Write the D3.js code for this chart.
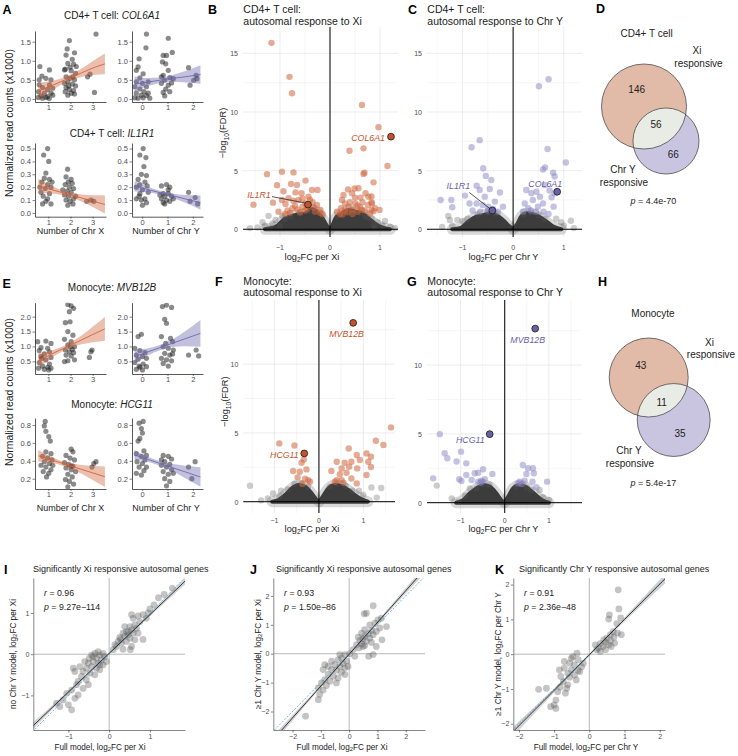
<!DOCTYPE html>
<html><head><meta charset="utf-8">
<script src="https://cdn.jsdelivr.net/npm/d3@7/dist/d3.min.js"></script>
<style>
html,body{margin:0;padding:0;background:#fff;}
svg text{font-family:"Liberation Sans",Arial,Helvetica,sans-serif;}
</style></head><body>
<svg id="fig" width="738" height="756" viewBox="0 0 738 756"></svg>
<script>
// ======================= DATA =======================
const panelLetters = ["A","B","C","D","E","F","G","H","I","J","K"];
// Panels A / E : [number of chromosomes (jittered), normalized read counts (x1000)]
const col6a1ByX = [[0.62,0.85],[1.05,0.76],[0.71,0.6],[0.89,0.54],[0.59,0.37],[1.05,0.37],[0.74,0.3],[0.97,0.25],[0.56,0.19],[0.82,0.15],[1.12,0.15],[0.67,0.08],[0.97,0.06],[1.2,0.1],[0.59,0.5],[1.12,0.5],[0.89,0.04],[0.74,0.02],[1.04,0.01],[0.55,0.04],[1.2,0.28],
 [1.85,1.31],[1.95,1.53],[2.18,1.21],[1.8,1.15],[2.08,1.04],[1.88,0.93],[2.14,0.91],[1.77,0.78],[2.03,0.74],[2.23,0.67],[1.8,0.58],[1.98,0.54],[2.18,0.5],[1.88,0.45],[1.73,0.41],[2.08,0.39],[2.23,0.34],[1.8,0.3],[1.95,0.25],[2.14,0.22],[1.76,0.19],[2.03,0.15],[1.88,0.1],[2.18,0.13],[1.92,0.34],[2.26,0.85],[1.73,0.76],[2.11,0.58],[1.98,0.83],
 [3.15,1.7],[2.77,0.58],[2.88,0.65],[3.08,0.17]];
const col6a1ByY = [[0.17,1.7],[-0.12,1.05],[-0.16,0.84],[0.04,0.66],[-0.09,0.55],[-0.23,0.45],[0.01,0.41],[0.24,0.45],[-0.29,0.32],[0.17,0.32],[-0.09,0.26],[0.07,0.19],[-0.23,0.15],[0.24,0.15],[-0.03,0.1],[-0.29,0.03],[-0.16,0.02],[0.17,0.09],[0.3,0.02],[0.04,0.03],[-0.23,0.75],[0.15,1.34],
 [1.03,1.59],[1.19,1.22],[0.83,1.14],[0.96,1.14],[0.8,0.97],[0.93,0.92],[1.03,0.75],[0.83,0.62],[1.09,0.56],[0.89,0.49],[0.76,0.41],[1.03,0.36],[1.16,0.42],[0.93,0.26],[0.83,0.17],[1.09,0.19],[0.89,0.08],[1.23,0.53],[0.76,0.58],
 [1.83,0.82],[2.13,0.62],[1.89,0.36],[2.16,0.53],[2.03,0.49]];
const il1r1ByX = [[0.79,0.45],[0.97,0.5],[1.02,0.4],[0.89,0.31],[0.82,0.27],[1.05,0.26],[0.71,0.24],[0.97,0.22],[1.12,0.2],[0.86,0.19],[0.67,0.16],[1.05,0.15],[0.77,0.13],[0.97,0.11],[0.89,0.09],[0.74,0.07],[1.12,0.07],[0.62,0.2],[1.17,0.24],
 [1.87,0.34],[1.8,0.28],[2.03,0.26],[1.76,0.22],[1.95,0.2],[2.14,0.19],[1.85,0.17],[2.03,0.16],[1.73,0.14],[1.92,0.13],[2.14,0.11],[1.8,0.1],[1.98,0.09],[2.11,0.07],[1.88,0.06],[2.23,0.13],[1.65,0.18],[2.08,0.23],[1.9,0.24],
 [2.73,0.09],[2.92,0.1],[3.05,0.09]];
const il1r1ByY = [[0.04,0.5],[-0.09,0.45],[0.15,0.43],[0.07,0.36],[-0.03,0.3],[0.17,0.29],[-0.16,0.26],[0.11,0.24],[-0.09,0.22],[0.2,0.21],[-0.23,0.2],[0.01,0.18],[0.24,0.16],[-0.12,0.13],[0.11,0.11],[-0.03,0.1],[-0.23,0.11],[0.17,0.08],[0.01,0.06],[-0.09,0.15],
 [0.76,0.21],[0.96,0.22],[1.09,0.2],[0.83,0.15],[1.03,0.15],[0.89,0.13],[1.16,0.13],[0.76,0.11],[0.96,0.1],[1.09,0.09],[0.83,0.08],[1.23,0.11],[0.7,0.14],[1.03,0.18],[0.89,0.07],
 [1.83,0.16],[2.09,0.12],[1.89,0.09],[2.19,0.07]];
const mvb12bByX = [[0.52,1.16],[0.89,1.18],[1.12,1.1],[0.67,0.96],[0.97,0.94],[0.59,0.86],[1.05,0.82],[0.82,0.75],[0.67,0.66],[1.12,0.63],[0.89,0.55],[0.59,0.46],[1.05,0.41],[0.74,0.34],[0.97,0.3],[0.56,0.27],[1.12,0.27],[0.82,0.23],[1.02,0.21],[0.71,0.6],
 [1.88,2.41],[2.03,2.36],[2.14,2.28],[1.95,2.17],[1.77,1.8],[1.98,1.83],[1.88,1.5],[2.11,1.38],[1.73,1.24],[2.03,1.16],[1.88,1.05],[2.18,0.99],[1.77,0.88],[1.95,0.82],[2.14,0.79],[1.8,0.71],[2.03,0.68],[1.88,0.52],[2.18,0.55],[1.73,0.49],[1.98,0.99],[2.08,0.9],
 [2.85,0.63],[2.97,0.88],[2.92,0.82]];
const mvb12bByY = [[-0.16,1.33],[-0.03,1.41],[-0.29,0.94],[-0.09,0.86],[0.11,0.79],[-0.23,0.71],[0.01,0.66],[0.17,0.6],[-0.16,0.57],[-0.29,0.46],[0.04,0.41],[-0.12,0.34],[0.17,0.32],[-0.23,0.23],[0.01,0.21],[-0.09,0.3],
 [0.8,2.34],[0.96,2.39],[1.16,2.31],[0.89,1.91],[0.96,1.78],[0.76,1.33],[1.12,1.27],[0.93,1.1],[1.2,1.16],[0.83,0.99],[1.03,0.94],[1.23,0.88],[0.89,0.77],[1.09,0.71],[0.76,0.6],[0.96,0.55],[1.16,0.52],[0.83,0.43],[1.03,0.34],[1.2,0.75],
 [1.83,0.71],[2.13,0.88],[2.23,0.68]];
const hcg11ByX = [[0.86,0.84],[0.82,0.79],[0.89,0.73],[1.02,0.67],[1.09,0.62],[0.89,0.5],[1.12,0.48],[0.74,0.45],[0.97,0.43],[1.17,0.41],[0.82,0.39],[1.05,0.37],[0.67,0.35],[0.89,0.33],[1.12,0.3],[0.77,0.28],[1.02,0.26],[0.92,0.22],[1.2,0.35],
 [2.03,0.53],[2.11,0.5],[1.8,0.46],[1.98,0.43],[2.18,0.41],[1.73,0.38],[1.92,0.36],[2.11,0.34],[1.8,0.32],[2.03,0.3],[2.23,0.28],[1.88,0.25],[2.08,0.22],[1.77,0.19],[1.95,0.17],[2.14,0.14],[1.88,0.11],[2.03,0.34],
 [2.97,0.33],[3.05,0.37],[3.15,0.39]];
const hcg11ByY = [[-0.12,0.82],[0.04,0.84],[-0.03,0.76],[0.01,0.71],[-0.09,0.65],[-0.16,0.62],[0.07,0.51],[-0.23,0.48],[0.17,0.46],[-0.03,0.45],[0.11,0.41],[-0.2,0.39],[0.01,0.37],[0.17,0.33],[-0.12,0.33],[0.07,0.29],[-0.23,0.26],[-0.03,0.24],
 [0.83,0.46],[1.03,0.45],[1.16,0.42],[0.89,0.39],[1.09,0.36],[0.76,0.35],[0.96,0.33],[1.16,0.3],[0.83,0.28],[1.03,0.25],[0.89,0.2],[1.09,0.17],[0.96,0.12],[1.23,0.26],[0.76,0.41],
 [1.83,0.33],[2.09,0.39],[1.96,0.2]];

// linear fits for A / E : x positions, fitted value, half width of confidence band
const fitGridX = [0.55,1,1.5,2,2.5,3,3.55];
const fitGridY = [-0.3,0.2,0.7,1.2,1.7,2.3];
const col6a1FitX = [0.2,0.31,0.435,0.56,0.685,0.81,0.92],  col6a1FitXci = [0.23,0.15,0.09,0.08,0.11,0.18,0.27];
const col6a1FitY = [0.39,0.44,0.49,0.54,0.58,0.64],        col6a1FitYci = [0.2,0.11,0.07,0.09,0.15,0.24];
const il1r1FitX  = [0.21,0.188,0.164,0.14,0.116,0.092,0.066], il1r1FitXci = [0.055,0.035,0.02,0.018,0.027,0.045,0.07];
const il1r1FitY  = [0.207,0.183,0.158,0.134,0.109,0.08],   il1r1FitYci = [0.04,0.022,0.015,0.018,0.03,0.055];
const mvb12bFitX = [0.53,0.69,0.87,1.04,1.22,1.4,1.59],    mvb12bFitXci = [0.24,0.15,0.09,0.09,0.15,0.26,0.4];
const mvb12bFitY = [0.66,0.81,0.96,1.11,1.26,1.44],        mvb12bFitYci = [0.23,0.12,0.09,0.13,0.25,0.45];
const hcg11FitX  = [0.456,0.42,0.382,0.343,0.304,0.265,0.222], hcg11FitXci = [0.065,0.04,0.025,0.03,0.05,0.08,0.115];
const hcg11FitY  = [0.466,0.418,0.371,0.323,0.276,0.219], hcg11FitYci = [0.055,0.03,0.025,0.04,0.07,0.11];

// Volcano plots: [log2FC, -log10(FDR)]
const volcB_sig = [[-1.17,15.9],[-0.81,13.0],[-0.76,11.6],[0.64,10.6],[0.39,6.7],[0.67,6.9],[0.97,8.7],[1.15,5.4],[0.87,4.0],[0.83,2.8],[0.83,2.3],[0.99,1.65],[0.83,1.65],
 [-1.26,4.7],[-0.96,4.9],[-0.73,4.85],[-1.53,2.1],[-1.14,2.27],[-1.06,3.75],[-0.93,3.24],[-0.78,3.86],[-0.69,3.15],[-0.66,3.78],[-0.49,4.15],[-0.36,3.35],[-0.25,3.35],[-0.57,3.07],[-0.43,2.78],[-0.49,2.2],[-0.63,2.5],[-0.89,2.16],[-0.83,2.64],[-0.73,2.44],[-0.33,1.87],[-0.26,2.07],[-0.19,1.65],[-1.03,1.5],[-0.96,2.5],
 [-0.85,1.6],[-0.75,1.8],[-0.65,1.7],[-0.55,1.9],[-0.45,1.75],[-0.35,2.3],[-0.3,1.5],[-0.6,1.45],[-0.7,2.0],[-0.5,1.6],[-0.4,2.5],[-0.2,1.4],[-0.15,1.3],[-0.55,2.6],[-0.8,1.4],[-0.9,1.3],
 [0.36,3.4],[0.49,3.47],[0.57,3.5],[0.27,2.93],[0.44,3.07],[0.61,2.7],[0.71,3.07],[0.67,4.72],[0.69,4.83],[0.77,2.78],[0.84,2.2],[0.51,2.2],[0.37,1.93],[0.24,2.5],[0.22,1.8],[0.64,1.65],[0.76,2.07],[0.14,1.5],[0.87,1.53],
 [0.2,1.3],[0.3,1.6],[0.35,1.45],[0.45,1.7],[0.55,1.5],[0.6,1.9],[0.7,1.6],[0.4,2.3],[0.3,2.2],[0.5,2.7],[0.65,2.3],[0.8,1.35],[0.25,1.25],[0.45,1.3],[0.9,1.8],[0.55,2.0]];
const volcB_bg = [[-1.23,1.14],[-1.09,0.8],[-0.95,1.14],[-1.15,0.5],[-1.3,0.3],[-1.45,0.15],[-1.0,0.3],[-0.9,0.9],[-1.35,0.6],[0.84,0.88],[0.87,0.35],[0.95,0.6],[1.05,0.3],[1.1,0.7],[1.2,0.2],[0.75,1.0],[0.9,0.15],[1.3,0.1],[-1.6,0.1],[-1.2,0.1],
 [-0.8,1.1],[-0.6,1.35],[-0.4,1.55],[-0.3,1.7],[-0.15,1.1],[0.15,1.1],[0.3,1.45],[0.45,1.6],[0.6,1.4],[0.7,1.15]];
const volcB_coreL = [[-1.3,0],[-1.09,0.2],[-0.89,0.94],[-0.69,1.22],[-0.49,1.36],[-0.36,1.7],[-0.23,1.36],[-0.13,0.8],[-0.06,0.28],[0,0]];
const volcB_coreR = [[0,0],[0.04,0.23],[0.11,0.94],[0.24,1.36],[0.37,1.65],[0.51,1.5],[0.64,1.36],[0.77,0.94],[0.91,0.45],[1.04,0.17],[1.2,0]];
const volcB_genes = ["COL6A1","IL1R1"], volcB_gx = [1.22,-0.44], volcB_gy = [7.9,2.1];

const volcC_sig = [[0.51,12.2],[0.70,12.8],[-0.66,7.6],[-0.82,7.0],[0.68,6.85],[-0.59,5.2],[-0.54,4.55],[0.63,5.28],[0.59,5.1],[0.79,4.83],[0.82,4.5],[1.04,5.7],[-1.43,2.5],[-1.22,2.5],[-1.2,1.88],[-0.95,2.87],[-0.72,3.72],[-0.66,3.35],[-0.56,2.78],[-0.46,3.44],[-0.26,3.13],[-0.43,4.2],[-0.86,2.2],[-0.72,2.2],[-0.6,2.07],[-0.49,1.93],[-0.36,2.36],[-0.2,1.93],
 [0.26,3.35],[0.36,3.07],[0.46,3.2],[0.53,2.78],[0.63,3.78],[0.72,3.3],[0.76,2.73],[0.82,3.07],[0.8,1.93],[0.39,2.5],[0.23,2.2],[0.3,1.8],[0.49,1.93],[0.59,2.2],
 [-0.8,1.6],[-0.65,1.5],[-0.5,1.6],[-0.4,1.75],[-0.3,1.5],[0.2,1.5],[0.35,1.6],[0.45,1.5],[0.6,1.5],[0.7,1.3]];
const volcC_bg = [[-1.28,1.14],[-1.25,0.8],[-1.1,0.8],[-1.0,0.7],[-0.9,0.9],[1.14,0.73],[0.95,0.6],[0.85,0.9],[1.0,0.3],[-1.4,0.2],[1.2,0.1],[-1.2,0.3],
 [-0.7,1.25],[-0.5,1.45],[-0.35,1.35],[0.2,1.25],[0.35,1.4],[0.5,1.2],[0.62,0.9]];
const volcC_coreL = [[-1.2,0],[-1.05,0.09],[-0.86,0.74],[-0.72,1.08],[-0.59,1.22],[-0.46,1.36],[-0.33,1.22],[-0.2,0.8],[-0.07,0.23],[0,0]];
const volcC_coreR = [[0,0],[0.07,0.37],[0.16,1.08],[0.26,1.36],[0.39,1.31],[0.53,1.02],[0.66,0.65],[0.79,0.23],[0.95,0]];
const volcC_genes = ["COL6A1","IL1R1"], volcC_gx = [0.87,-0.41], volcC_gy = [3.2,1.6];

const volcF_sig = [[-0.89,4.24],[-0.55,4.09],[-0.39,2.83],[-0.34,3.07],[-0.58,2.23],[-0.43,2.18],[-0.28,2.35],[-0.48,1.77],[-0.31,1.67],[-0.24,1.57],[-0.2,1.45],[-0.37,1.28],
 [0.67,3.87],[0.85,3.39],[1.07,3.51],[0.92,3.03],[0.73,2.9],[0.58,2.83],[0.4,2.9],[1.11,2.9],[0.51,2.42],[0.68,2.54],[0.86,2.42],[0.62,2.1],[0.47,2.0],[0.28,2.23],[1.07,1.94],[0.51,1.57],[0.4,1.57],[0.36,1.45],[0.55,1.38],[0.73,1.69],[0.85,1.33],[1.62,5.4],[1.28,4.43],[1.45,4.12],[1.17,3.27],[1.17,2.52]];
const volcF_bg = [[-1.55,1.16],[-1.15,0.24],[-1.03,0.6],[-0.89,0.41],[-0.85,0.8],[1.18,1.04],[1.4,1.0],[1.0,0.5],[1.3,0.3],[-1.3,0.1],[-0.7,0.9],[0.9,0.8],
 [-0.55,1.3],[-0.4,1.35],[-0.25,1.1],[0.25,1.1],[0.4,1.3],[0.6,1.15],[0.75,0.8]];
const volcF_coreL = [[-1.05,0],[-0.91,0.12],[-0.76,0.48],[-0.61,0.97],[-0.46,1.21],[-0.31,1.09],[-0.16,0.6],[-0.05,0.12],[0,0]];
const volcF_coreR = [[0,0],[0.06,0.24],[0.21,0.97],[0.36,1.21],[0.51,1.14],[0.66,0.85],[0.81,0.48],[0.96,0.17],[1.1,0]];
const volcF_genes = ["MVB12B","HCG11"], volcF_gx = [0.77,-0.33], volcF_gy = [13.0,3.51];

const volcG_sig = [[-1.47,4.98],[-1.36,3.59],[-1.3,3.23],[-0.99,3.71],[-1.09,2.99],[-0.87,2.86],[-1.62,1.77],[-1.03,1.7],[-0.98,1.58],[-0.87,2.01],[-0.75,1.65],[-0.68,2.14],[-0.6,2.18],[-0.49,2.43],[-0.6,1.53],[-0.53,1.6],[-0.28,2.09],[-0.45,1.7],[-0.55,1.45],[-0.5,1.55],
 [0.41,2.74],[0.53,2.5],[0.64,2.5],[0.49,2.09],[0.66,2.14],[0.34,1.53],[0.63,1.53],[0.38,1.36],[0.96,1.53],[0.72,1.12],[0.3,1.4],[0.45,1.6]];
const volcG_bg = [[-1.54,1.24],[-1.05,0.07],[-0.79,1.04],[-0.64,1.04],[0.79,0.92],[0.87,0.39],[-1.2,0.3],[1.0,0.2],[0.5,1.1],[-0.9,0.5],
 [-0.5,1.35],[-0.35,1.3],[0.25,1.15],[0.4,1.35],[0.6,0.9]];
const volcG_coreL = [[-1.1,0],[-0.94,0.19],[-0.79,0.68],[-0.64,1.04],[-0.49,1.29],[-0.34,1.17],[-0.19,0.68],[-0.08,0.19],[0,0]];
const volcG_coreR = [[0,0],[0.08,0.44],[0.19,1.04],[0.34,1.29],[0.49,1.12],[0.64,0.73],[0.79,0.32],[0.9,0.1],[1.0,0]];
const volcG_genes = ["MVB12B","HCG11"], volcG_gx = [0.69,-0.34], volcG_gy = [12.65,4.98];

// Venn diagrams
const vennCells = ["CD4+ T cell","Monocyte"];
const vennXiOnly = [146,43];
const vennBoth   = [56,11];
const vennYOnly  = [66,35];
const vennP      = ["4.4e-70","5.4e-17"];

// Panels I / J / K : [full model log2FC, reduced model log2FC]
const corrI = [[0.55,0.96],[0.59,0.87],[0.71,0.93],[0.83,0.96],[0.91,0.87],[0.96,1.0],[0.75,0.79],[0.63,0.71],[0.51,0.67],[0.67,0.63],[0.55,0.59],[0.42,0.55],[0.34,0.51],[0.47,0.47],[0.59,0.51],[0.38,0.43],[0.26,0.41],[0.51,0.39],[0.22,0.31],[0.14,0.23],[0.18,0.19],[0.3,0.27],[0.42,0.31],[0.55,0.19],[0.83,0.36],[0.71,0.51],[0.63,0.35],[0.52,0.11],[0.34,0.12],[0.47,0.55],[0.38,0.67],[0.28,0.36],[0.1,0.11],
 [1.21,1.37],[1.1,1.2],[1.35,1.45],[1.55,1.6],[1.0,1.1],
 [-0.23,-0.02],[-0.35,0.02],[-0.43,-0.02],[-0.31,-0.1],[-0.19,-0.14],[-0.39,-0.18],[-0.27,-0.22],[-0.15,-0.26],[-0.51,-0.22],[-0.43,-0.3],[-0.31,-0.34],[-0.23,-0.38],[-0.56,-0.34],[-0.64,-0.42],[-0.47,-0.46],[-0.35,-0.5],[-0.68,-0.54],[-0.56,-0.62],[-0.76,-0.66],[-0.88,-0.34],[-0.84,-0.42],[-0.8,-0.74],[-0.64,-0.83],[-0.92,-0.87],[-1.04,-0.95],[-0.76,-0.99],[-0.84,-1.07],[-1.13,-1.11],[-1.0,-1.23],[-1.21,-1.27],[-0.92,-1.35],[-1.29,-1.19],[-0.15,0.02],[-0.27,0.06],[-0.11,-0.06],[-0.39,-0.06],[-0.07,-0.18],[-0.49,-0.1],[-0.6,-0.18],[-0.23,-0.26],[-0.72,-0.3],[-0.51,-0.74]];
const corrJ = [[0.85,1.66],[0.53,1.38],[0.61,1.4],[1.14,1.23],[1.02,1.17],[0.91,1.06],[0.73,1.0],[1.32,0.94],[1.08,0.89],[0.55,0.83],[0.79,0.8],[0.96,0.77],[0.44,0.71],[0.67,0.69],[0.85,0.66],[0.55,0.6],[0.32,0.57],[0.73,0.54],[0.49,0.51],[0.38,0.46],[0.61,0.43],[0.79,0.39],[0.44,0.34],[0.26,0.31],[0.55,0.28],[0.34,0.2],[0.14,0.14],[0.2,-0.09],[0.69,-0.09],[0.85,-0.03],[1.16,0.48],[0.96,0.25],[0.49,0.25],
 [-0.15,-0.03],[0.02,0.0],[-0.27,-0.15],[-0.39,-0.21],[-0.09,-0.26],[-0.21,-0.34],[-0.51,-0.38],[-0.33,-0.44],[-0.15,-0.49],[-0.62,-0.55],[-0.45,-0.57],[-0.27,-0.64],[-0.74,-0.72],[-0.56,-0.78],[-0.39,-0.84],[-0.86,-0.9],[-0.68,-0.95],[-0.98,-1.01],[-0.8,-1.1],[-1.09,-1.18],[-0.92,-1.26],[-1.04,-1.41],[-1.09,-1.59],[-1.54,-2.16],[-0.92,-0.55],[-0.86,-0.38],[-0.04,-0.44],[-0.33,-0.03],[-0.62,-0.26],[-0.74,-0.44],[-0.15,-0.72],[-0.45,-1.01]];
const corrK = [[0.84,1.3],[0.57,1.13],[0.55,1.01],[0.89,1.04],[0.78,0.88],[0.68,0.65],[0.8,0.61],[0.91,0.56],[0.6,0.56],[0.7,0.49],[0.5,0.46],[0.41,0.41],[0.6,0.39],[0.46,0.34],[0.31,0.3],[0.55,0.27],[0.39,0.22],[0.26,0.17],[0.17,0.27],[0.21,0.13],[0.46,0.13],[0.72,0.32],[0.62,0.22],[0.31,0.08],[0.82,1.85],
 [-0.35,0.03],[-0.51,-0.12],[-0.32,-0.16],[-0.17,-0.26],[-0.56,-0.26],[-0.42,-0.31],[-0.71,-0.4],[-0.51,-0.45],[-0.32,-0.47],[-0.85,-0.45],[-0.61,-0.55],[-0.42,-0.6],[-0.27,-0.5],[-0.22,-0.36],[-0.56,-0.66],[-0.37,-0.74],[-0.74,-0.79],[-0.61,-0.88],[-0.83,-0.95],[-0.64,-0.98],[-1.44,-1.01],[-1.22,-0.98],[-0.9,-1.08],[-0.68,-1.12],[-0.95,-1.32],[-1.0,-1.46],[-0.95,-1.56],[-1.1,-1.51],[-0.71,-0.21],[-0.47,-0.07],[-0.81,-0.64]];
// regression fit lines with CI half-widths
const fitIx = [-1.9,-1,0,1,1.9],   fitIy = [-1.77,-0.92,0.02,0.96,1.81], fitIci = [0.08,0.04,0.025,0.04,0.08];
const fitJx = [-2.7,-1.5,0,1.5,2.7], fitJy = [-2.99,-1.67,-0.02,1.63,2.95], fitJci = [0.14,0.07,0.03,0.07,0.14];
const fitKx = [-2.2,-1,0,1,2.2],   fitKy = [-2.26,-1.04,-0.02,1.0,2.22], fitKci = [0.14,0.06,0.03,0.06,0.14];
const corrR = ["0.96","0.93","0.91"];
const corrP = ["9.27e\u2212114","1.50e\u221286","2.36e\u221248"];

// ======================= DRAWING =======================
const svg = d3.select("#fig");
const FONT = '"Liberation Sans", Arial, Helvetica, sans-serif';
const OR = "#d0643c", OR_DARK = "#c4532a", PU = "#7069ad", PU_DARK = "#6961a6";

function rich(g, x, y, parts, o = {}) {
  const fs = o.size || 9;
  const t = g.append("text").attr("x", x).attr("y", y)
    .attr("font-size", fs).attr("fill", o.fill || "#1a1a1a")
    .attr("text-anchor", o.anchor || "start")
    .attr("dominant-baseline", o.baseline || "central")
    .attr("font-family", FONT);
  if (o.rotate) t.attr("transform", `rotate(${o.rotate},${x},${y})`);
  if (o.weight) t.attr("font-weight", o.weight);
  let shifted = false;
  parts.forEach(p => {
    if (typeof p === "string") p = { t: p };
    const s = t.append("tspan").text(p.t);
    if (p.i) s.attr("font-style", "italic");
    if (p.sub) { s.attr("font-size", fs * 0.72).attr("dy", fs * 0.3); shifted = true; }
    else if (shifted) { s.attr("dy", -fs * 0.3); shifted = false; }
  });
  return t;
}
function letter(x, y, L) {
  svg.append("text").attr("x", x).attr("y", y).text(L).attr("font-size", 12.5)
    .attr("font-weight", "bold").attr("fill", "#000").attr("font-family", FONT);
}
function styleAxis(sel, fs) {
  sel.attr("font-family", FONT);
  sel.select(".domain").attr("stroke", "#111").attr("stroke-width", 0.7);
  sel.selectAll(".tick line").attr("stroke", "#333").attr("stroke-width", 0.6);
  sel.selectAll(".tick text").attr("fill", "#4d4d4d").attr("font-size", fs);
}

// ---------- jitter + lm panels ----------
let clipN = 0;
function jitterPanel(o) {
  const g = svg.append("g");
  const x = d3.scaleLinear().domain(o.xd).range([o.x0, o.x1]);
  const y = d3.scaleLinear().domain(o.yd).range([o.y1, o.y0]);
  const cid = "jclip" + (clipN++);
  g.append("clipPath").attr("id", cid).append("rect").attr("x", o.x0).attr("y", o.y0).attr("width", o.x1 - o.x0).attr("height", o.y1 - o.y0);
  const inner = g.append("g").attr("clip-path", `url(#${cid})`);
  inner.selectAll("circle").data(o.pts).join("circle")
    .attr("cx", d => x(d[0])).attr("cy", d => y(d[1])).attr("r", 2.6)
    .attr("fill", "#1e1e1e").attr("fill-opacity", 0.52);
  const fd = o.fx.map((v, i) => ({ x: v, y: o.fy[i], h: o.fh[i] }));
  inner.append("path").datum(fd)
    .attr("d", d3.area().x(d => x(d.x)).y0(d => y(d.y - d.h)).y1(d => y(d.y + d.h)).curve(d3.curveMonotoneX))
    .attr("fill", o.col).attr("fill-opacity", 0.42);
  inner.append("path").datum(fd)
    .attr("d", d3.line().x(d => x(d.x)).y(d => y(d.y)))
    .attr("fill", "none").attr("stroke", o.col).attr("stroke-width", 0.9);
  const xa = g.append("g").attr("transform", `translate(0,${o.y1})`)
    .call(d3.axisBottom(x).tickValues(o.xt).tickFormat(d3.format("d")).tickSize(2).tickPadding(1).tickSizeOuter(0));
  styleAxis(xa, 7.5);
  const ya = g.append("g").attr("transform", `translate(${o.x0},0)`)
    .call(d3.axisLeft(y).tickValues(o.yt).tickFormat(d3.format(".1f")).tickSize(2.5).tickPadding(1.5).tickSizeOuter(0));
  styleAxis(ya, 7.5);
}
const colL = [35, 106], colR = [132, 203];
const xdX = [0.4, 3.6], xdY = [-0.4, 2.4];
jitterPanel({x0: colL[0], x1: colL[1], y0: 31, y1: 102, xd: xdX, yd: [-0.08, 1.78], xt: [1,2,3], yt: [0,0.5,1,1.5], pts: col6a1ByX, fx: fitGridX, fy: col6a1FitX, fh: col6a1FitXci, col: OR});
jitterPanel({x0: colR[0], x1: colR[1], y0: 31, y1: 102, xd: xdY, yd: [-0.08, 1.78], xt: [0,1,2], yt: [0,0.5,1,1.5], pts: col6a1ByY, fx: fitGridY, fy: col6a1FitY, fh: col6a1FitYci, col: PU});
jitterPanel({x0: colL[0], x1: colL[1], y0: 143, y1: 216.7, xd: xdX, yd: [-0.029, 0.543], xt: [1,2,3], yt: [0,0.1,0.2,0.3,0.4,0.5], pts: il1r1ByX, fx: fitGridX, fy: il1r1FitX, fh: il1r1FitXci, col: OR});
jitterPanel({x0: colR[0], x1: colR[1], y0: 143, y1: 216.7, xd: xdY, yd: [-0.029, 0.543], xt: [0,1,2], yt: [0,0.1,0.2,0.3,0.4,0.5], pts: il1r1ByY, fx: fitGridY, fy: il1r1FitY, fh: il1r1FitYci, col: PU});
jitterPanel({x0: colL[0], x1: colL[1], y0: 302.7, y1: 374, xd: xdX, yd: [0.074, 2.47], xt: [1,2,3], yt: [0.5,1,1.5,2], pts: mvb12bByX, fx: fitGridX, fy: mvb12bFitX, fh: mvb12bFitXci, col: OR});
jitterPanel({x0: colR[0], x1: colR[1], y0: 302.7, y1: 374, xd: xdY, yd: [0.074, 2.47], xt: [0,1,2], yt: [0.5,1,1.5,2], pts: mvb12bByY, fx: fitGridY, fy: mvb12bFitY, fh: mvb12bFitYci, col: PU});
jitterPanel({x0: colL[0], x1: colL[1], y0: 418, y1: 489, xd: xdX, yd: [0.085, 0.878], xt: [1,2,3], yt: [0.2,0.4,0.6,0.8], pts: hcg11ByX, fx: fitGridX, fy: hcg11FitX, fh: hcg11FitXci, col: OR});
jitterPanel({x0: colR[0], x1: colR[1], y0: 418, y1: 489, xd: xdY, yd: [0.085, 0.878], xt: [0,1,2], yt: [0.2,0.4,0.6,0.8], pts: hcg11ByY, fx: fitGridY, fy: hcg11FitY, fh: hcg11FitYci, col: PU});

rich(svg, 112, 15, ["CD4+ T cell: ", {t: "COL6A1", i: 1}], {size: 10, anchor: "middle"});
rich(svg, 112, 133.3, ["CD4+ T cell: ", {t: "IL1R1", i: 1}], {size: 10, anchor: "middle"});
rich(svg, 112, 286.7, ["Monocyte: ", {t: "MVB12B", i: 1}], {size: 10, anchor: "middle"});
rich(svg, 112, 404, ["Monocyte: ", {t: "HCG11", i: 1}], {size: 10, anchor: "middle"});
rich(svg, 70.5, 231, ["Number of Chr X"], {size: 9, anchor: "middle"});
rich(svg, 166, 231, ["Number of Chr Y"], {size: 9, anchor: "middle"});
rich(svg, 70.5, 508, ["Number of Chr X"], {size: 9, anchor: "middle"});
rich(svg, 166, 508, ["Number of Chr Y"], {size: 9, anchor: "middle"});
rich(svg, 8.5, 123, ["Normalized read counts (x1000)"], {size: 10.4, anchor: "middle", rotate: -90});
rich(svg, 8.5, 392, ["Normalized read counts (x1000)"], {size: 10.4, anchor: "middle", rotate: -90});

// ---------- volcano plots ----------
function volcano(o) {
  const g = svg.append("g");
  const x = d3.scaleLinear().domain(o.xd).range([o.x0, o.x1]);
  const y = d3.scaleLinear().domain(o.yd).range([o.y1, o.y0]);
  o.gx.forEach(v => g.append("line").attr("x1", x(v)).attr("x2", x(v)).attr("y1", o.y0).attr("y2", o.y1)
    .attr("stroke", o.xt.includes(v) ? "#e4e4e4" : "#f0f0f0").attr("stroke-width", 0.7));
  o.gy.forEach(v => g.append("line").attr("x1", o.x0).attr("x2", o.x1).attr("y1", y(v)).attr("y2", y(v))
    .attr("stroke", o.yt.includes(v) ? "#e4e4e4" : "#f0f0f0").attr("stroke-width", 0.7));
  const area = d3.area().x(d => x(d[0])).y0(y(0)).y1(d => y(d[1])).curve(d3.curveMonotoneX);
  // soft halo of less dense points around the dense core
  [o.coreL, o.coreR].forEach(c => g.append("path").attr("d", area(c))
    .attr("fill", "#777").attr("stroke", "#777").attr("stroke-width", 11).attr("stroke-linejoin", "round").attr("opacity", 0.28));
  [o.coreL, o.coreR].forEach(c => g.append("path").attr("d", area(c))
    .attr("fill", "#3c3c3c").attr("stroke", "#3c3c3c").attr("stroke-width", 4).attr("stroke-linejoin", "round"));
  g.append("g").selectAll("circle").data(o.bg).join("circle")
    .attr("cx", d => x(d[0])).attr("cy", d => y(d[1])).attr("r", 3.2).attr("fill", "#555").attr("fill-opacity", 0.3);
  g.append("g").selectAll("circle").data(o.sig).join("circle")
    .attr("cx", d => x(d[0])).attr("cy", d => y(d[1])).attr("r", 3.2).attr("fill", o.col).attr("fill-opacity", o.op);
  g.append("line").attr("x1", o.x0).attr("x2", o.x1).attr("y1", y(0)).attr("y2", y(0)).attr("stroke", "#000").attr("stroke-width", 1);
  g.append("line").attr("x1", x(0)).attr("x2", x(0)).attr("y1", o.y0).attr("y2", o.y1).attr("stroke", "#000").attr("stroke-width", 1);
  o.genes.forEach((gn, i) => {
    const px = x(o.gxv[i]), py = y(o.gyv[i]);
    const L = o.lab[i];
    if (L.line) g.append("line").attr("x1", px + L.line[0]).attr("y1", py + L.line[1]).attr("x2", px - 2).attr("y2", py - 1.5)
      .attr("stroke", "#111").attr("stroke-width", 0.7);
    g.append("circle").attr("cx", px).attr("cy", py).attr("r", 3.4).attr("fill", o.dark).attr("stroke", "#1a1a1a").attr("stroke-width", 0.8);
    rich(g, px + L.dx, py + L.dy, [{t: gn, i: 1}], {size: 8.8, anchor: L.a, fill: o.dark});
  });
  o.xt.forEach(v => rich(g, x(v), o.ty, [v < 0 ? "\u2212" + Math.abs(v) : String(v)], {size: 7, anchor: "middle", fill: "#4d4d4d"}));
  o.yt.forEach(v => rich(g, o.x0 - 5, y(v), [String(v)], {size: 7, anchor: "end", fill: "#4d4d4d"}));
}
volcano({x0: 243, x1: 398, y0: 27, y1: 237, ty: 246.5, xd: [-1.74, 1.36], yd: [-0.66, 17.25],
  gx: [-1.5,-1,-0.5,0,0.5,1], xt: [-1,0,1], gy: [0,2.5,5,7.5,10,12.5,15], yt: [0,5,10,15],
  bg: volcB_bg, coreL: volcB_coreL, coreR: volcB_coreR, sig: volcB_sig, col: OR, op: 0.55, dark: OR_DARK,
  genes: volcB_genes, gxv: volcB_gx, gyv: volcB_gy,
  lab: [{dx: -6, dy: 1, a: "end"}, {dx: -49, dy: -10, a: "middle", line: [-36, -8]}]});
volcano({x0: 427, x1: 582, y0: 27, y1: 237, ty: 246.5, xd: [-1.70, 1.36], yd: [-0.66, 17.25],
  gx: [-1.5,-1,-0.5,0,0.5,1], xt: [-1,0,1], gy: [0,2.5,5,7.5,10,12.5,15], yt: [0,5,10,15],
  bg: volcC_bg, coreL: volcC_coreL, coreR: volcC_coreR, sig: volcC_sig, col: "#8a83c3", op: 0.5, dark: PU_DARK,
  genes: volcC_genes, gxv: volcC_gx, gyv: volcC_gy,
  lab: [{dx: -12, dy: -8, a: "middle"}, {dx: -34, dy: -25, a: "middle", line: [-23, -18]}]});
volcano({x0: 243.3, x1: 395, y0: 300, y1: 513, ty: 519.5, xd: [-1.70, 1.71], yd: [-0.82, 14.66],
  gx: [-1.5,-1,-0.5,0,0.5,1,1.5], xt: [-1,0,1], gy: [0,2.5,5,7.5,10,12.5], yt: [0,5,10],
  bg: volcF_bg, coreL: volcF_coreL, coreR: volcF_coreR, sig: volcF_sig, col: OR, op: 0.55, dark: OR_DARK,
  genes: volcF_genes, gxv: volcF_gx, gyv: volcF_gy,
  lab: [{dx: -6.6, dy: 11.5, a: "middle"}, {dx: -5.5, dy: 1.6, a: "end"}]});
volcano({x0: 427, x1: 582, y0: 300, y1: 513, ty: 519.5, xd: [-1.76, 1.75], yd: [-0.75, 14.73],
  gx: [-1.5,-1,-0.5,0,0.5,1,1.5], xt: [-1,0,1], gy: [0,2.5,5,7.5,10,12.5], yt: [0,5,10],
  bg: volcG_bg, coreL: volcG_coreL, coreR: volcG_coreR, sig: volcG_sig, col: "#8a83c3", op: 0.5, dark: PU_DARK,
  genes: volcG_genes, gxv: volcG_gx, gyv: volcG_gy,
  lab: [{dx: -7.5, dy: 11.3, a: "middle"}, {dx: -5, dy: 6, a: "end"}]});

rich(svg, 243.3, 9.3, ["CD4+ T cell:"], {size: 10.5});
rich(svg, 243.3, 20.7, ["autosomal response to Xi"], {size: 10.5});
rich(svg, 427.3, 9.3, ["CD4+ T cell:"], {size: 10.5});
rich(svg, 427.3, 20.7, ["autosomal response to Chr Y"], {size: 10.5});
rich(svg, 243.3, 280.5, ["Monocyte:"], {size: 10.5});
rich(svg, 243.3, 291.7, ["autosomal response to Xi"], {size: 10.5});
rich(svg, 427.3, 280.5, ["Monocyte:"], {size: 10.5});
rich(svg, 427.3, 291.7, ["autosomal response to Chr Y"], {size: 10.5});
rich(svg, 223, 133, ["\u2212log", {t: "10", sub: 1}, "(FDR)"], {size: 9.3, anchor: "middle", rotate: -90});
rich(svg, 225.2, 401.7, ["\u2212log", {t: "10", sub: 1}, "(FDR)"], {size: 9.3, anchor: "middle", rotate: -90});
rich(svg, 312, 256.5, ["log", {t: "2", sub: 1}, "FC per Xi"], {size: 9.2, anchor: "middle"});
rich(svg, 503.5, 256.5, ["log", {t: "2", sub: 1}, "FC per Chr Y"], {size: 9.2, anchor: "middle"});
rich(svg, 312, 528.5, ["log", {t: "2", sub: 1}, "FC per Xi"], {size: 9.2, anchor: "middle"});
rich(svg, 503.5, 528.5, ["log", {t: "2", sub: 1}, "FC per Chr Y"], {size: 9.2, anchor: "middle"});

// ---------- Venn diagrams ----------
const vennLayout = [
  {cx1: 644, cy1: 106.5, R: 42.5, cx2: 666, cy2: 141, title: [646.7, 33.3], xi: [697, 50], yl: [623, 169], p: [653.3, 201], n1: [636.7, 89.3], n12: [656, 124], n2: [673.3, 154]},
  {cx1: 648.7, cy1: 377.5, R: 39.5, cx2: 673.7, cy2: 420, title: [653, 313.3], xi: [709.5, 341.7], yl: [629, 450], p: [653.3, 483.3], n1: [640.7, 365], n12: [661.7, 402.3], n2: [680, 433.3]}
];
vennCells.forEach((cell, i) => {
  const L = vennLayout[i];
  const tot1 = vennXiOnly[i] + vennBoth[i], tot2 = vennYOnly[i] + vennBoth[i];
  const r1 = L.R, r2 = L.R * Math.sqrt(tot2 / tot1);
  const g = svg.append("g");
  const cid = "vclip" + i;
  g.append("clipPath").attr("id", cid).append("circle").attr("cx", L.cx1).attr("cy", L.cy1).attr("r", r1);
  g.append("circle").attr("cx", L.cx1).attr("cy", L.cy1).attr("r", r1).attr("fill", "#e2bba8");
  g.append("circle").attr("cx", L.cx2).attr("cy", L.cy2).attr("r", r2).attr("fill", "#c9c5e0");
  g.append("circle").attr("cx", L.cx2).attr("cy", L.cy2).attr("r", r2).attr("fill", "#e9ebe5").attr("clip-path", `url(#${cid})`);
  g.append("circle").attr("cx", L.cx1).attr("cy", L.cy1).attr("r", r1).attr("fill", "none").attr("stroke", "#3a3a3a").attr("stroke-width", 0.7);
  g.append("circle").attr("cx", L.cx2).attr("cy", L.cy2).attr("r", r2).attr("fill", "none").attr("stroke", "#3a3a3a").attr("stroke-width", 0.7);
  rich(g, L.title[0], L.title[1], [cell], {size: 10, anchor: "middle", fill: "#222"});
  rich(g, L.xi[0], L.xi[1], ["Xi"], {size: 10, anchor: "middle", fill: "#222"});
  rich(g, L.xi[0] + 1.5, L.xi[1] + 12.7, ["responsive"], {size: 10, anchor: "middle", fill: "#222"});
  rich(g, L.yl[0], L.yl[1], ["Chr Y"], {size: 10, anchor: "middle", fill: "#222"});
  rich(g, L.yl[0] + 1, L.yl[1] + 12.7, ["responsive"], {size: 10, anchor: "middle", fill: "#222"});
  rich(g, L.n1[0], L.n1[1], [String(vennXiOnly[i])], {size: 10, anchor: "middle", fill: "#222"});
  rich(g, L.n12[0], L.n12[1], [String(vennBoth[i])], {size: 10, anchor: "middle", fill: "#222"});
  rich(g, L.n2[0], L.n2[1], [String(vennYOnly[i])], {size: 10, anchor: "middle", fill: "#222"});
  rich(g, L.p[0], L.p[1], [{t: "p", i: 1}, " = " + vennP[i]], {size: 9, anchor: "middle", fill: "#222"});
});

// ---------- correlation panels ----------
function corrPanel(o) {
  const g = svg.append("g");
  const x = d3.scaleLinear().domain(o.d[0]).range([o.x0, o.x1]);
  const y = d3.scaleLinear().domain(o.d[1]).range([o.y1, o.y0]);
  const cid = "cclip" + o.id;
  g.append("clipPath").attr("id", cid).append("rect").attr("x", o.x0).attr("y", o.y0).attr("width", o.x1 - o.x0).attr("height", o.y1 - o.y0);
  const inner = g.append("g").attr("clip-path", `url(#${cid})`);
  inner.append("line").attr("x1", x(0)).attr("x2", x(0)).attr("y1", o.y0).attr("y2", o.y1).attr("stroke", "#a6a6a6").attr("stroke-width", 0.8);
  inner.append("line").attr("x1", o.x0).attr("x2", o.x1).attr("y1", y(0)).attr("y2", y(0)).attr("stroke", "#a6a6a6").attr("stroke-width", 0.8);
  inner.selectAll("circle").data(o.pts).join("circle")
    .attr("cx", d => x(d[0])).attr("cy", d => y(d[1])).attr("r", 3.4).attr("fill", "#555").attr("fill-opacity", 0.35);
  const fd = o.fx.map((v, i) => ({x: v, y: o.fy[i], h: o.fh[i]}));
  inner.append("path").datum(fd).attr("d", d3.area().x(d => x(d.x)).y0(d => y(d.y - d.h)).y1(d => y(d.y + d.h)).curve(d3.curveMonotoneX))
    .attr("fill", "#9a9a9a").attr("fill-opacity", 0.45);
  inner.append("line").attr("x1", x(-3)).attr("y1", y(-3)).attr("x2", x(3)).attr("y2", y(3))
    .attr("stroke", "#4fa6d6").attr("stroke-width", 0.8).attr("stroke-dasharray", "2,1.6");
  inner.append("path").datum(fd).attr("d", d3.line().x(d => x(d.x)).y(d => y(d.y)))
    .attr("fill", "none").attr("stroke", "#111").attr("stroke-width", 0.8);
  const fmt = v => v < 0 ? "\u2212" + Math.abs(v) : String(v);
  const xa = g.append("g").attr("transform", `translate(0,${o.y1})`)
    .call(d3.axisBottom(x).tickValues(o.t).tickFormat(fmt).tickSize(2.5).tickPadding(1.5).tickSizeOuter(0));
  styleAxis(xa, 7);
  const ya = g.append("g").attr("transform", `translate(${o.x0},0)`)
    .call(d3.axisLeft(y).tickValues(o.t).tickFormat(fmt).tickSize(2.5).tickPadding(1.5).tickSizeOuter(0));
  styleAxis(ya, 7);
  [xa, ya].forEach(a => a.select(".domain").attr("stroke", "#555"));
  rich(g, o.tx, 592.7, [{t: "r", i: 1}, " = " + o.r], {size: 8.8});
  rich(g, o.tx, 606.7, [{t: "p", i: 1}, " = " + o.p], {size: 8.8});
}
corrPanel({id: "I", x0: 33.3, x1: 185, y0: 578, y1: 730, d: [[-1.86, 1.86], [-1.84, 1.85]], t: [-1,0,1], pts: corrI, fx: fitIx, fy: fitIy, fh: fitIci, r: corrR[0], p: corrP[0], tx: 44});
corrPanel({id: "J", x0: 273.3, x1: 425, y0: 578, y1: 730, d: [[-2.68, 2.68], [-2.64, 2.62]], t: [-2,-1,0,1,2], pts: corrJ, fx: fitJx, fy: fitJy, fh: fitJci, r: corrR[1], p: corrP[1], tx: 284});
corrPanel({id: "K", x0: 513.3, x1: 665, y0: 578, y1: 730, d: [[-2.16, 2.15], [-2.18, 2.19]], t: [-2,-1,0,1,2], pts: corrK, fx: fitKx, fy: fitKy, fh: fitKci, r: corrR[2], p: corrP[2], tx: 524});

rich(svg, 33, 569.3, ["Significantly Xi responsive autosomal genes"], {size: 9});
rich(svg, 276, 569.3, ["Significantly Xi responsive autosomal genes"], {size: 9});
rich(svg, 519, 569.3, ["Significantly Chr Y responsive autosomal genes"], {size: 9});
rich(svg, 13, 654, ["no Chr Y model, log", {t: "2", sub: 1}, "FC per Xi"], {size: 8.2, anchor: "middle", rotate: -90});
rich(svg, 258, 654, ["\u22651 Chr Y model, log", {t: "2", sub: 1}, "FC per Xi"], {size: 8.2, anchor: "middle", rotate: -90});
rich(svg, 497.5, 654, ["\u22651 Chr Y model, log", {t: "2", sub: 1}, "FC per Chr Y"], {size: 8.2, anchor: "middle", rotate: -90});
rich(svg, 100, 746.5, ["Full model, log", {t: "2", sub: 1}, "FC per Xi"], {size: 8.2, anchor: "middle"});
rich(svg, 342, 746.5, ["Full model, log", {t: "2", sub: 1}, "FC per Xi"], {size: 8.2, anchor: "middle"});
rich(svg, 586, 746.5, ["Full model, log", {t: "2", sub: 1}, "FC per Chr Y"], {size: 8.2, anchor: "middle"});

// ---------- panel letters ----------
const letterPos = [[2.5,14],[208,13.5],[408,13.5],[596,12.5],[2.5,288],[215,286],[407,286],[598,286],[4,574],[250,574],[495,574]];
panelLetters.forEach((L, i) => letter(letterPos[i][0], letterPos[i][1], L));
</script></body></html>
